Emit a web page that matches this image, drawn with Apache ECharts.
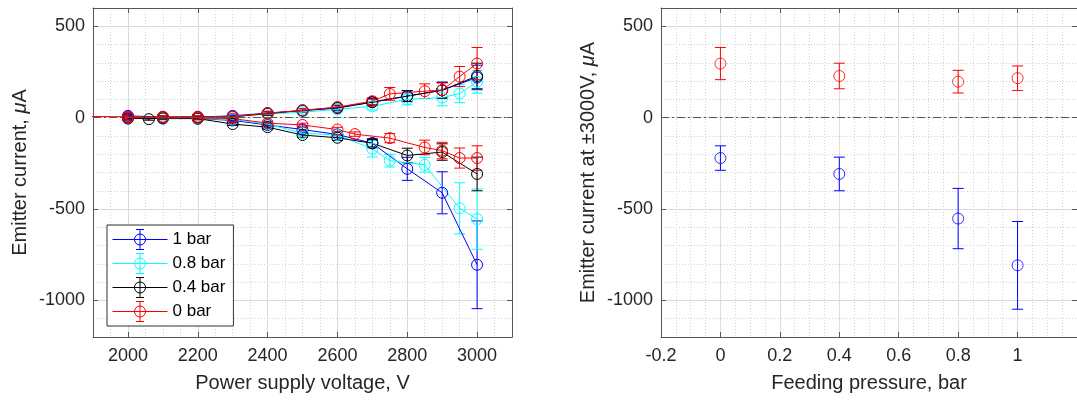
<!DOCTYPE html>
<html><head><meta charset="utf-8">
<script src="https://cdn.jsdelivr.net/npm/echarts@6.0.0/dist/echarts.min.js"></script>
<style>html,body{margin:0;padding:0;background:#fff}#c{width:1077px;height:402px}</style>
</head><body><div id="c"></div>
<script>
// ---------- data (left panel) ----------
const VOLTAGES = [1800, 2000, 2060, 2100, 2200, 2300, 2400, 2500, 2600, 2650, 2700, 2750, 2800, 2850, 2900, 2950, 3000];
const PRESSURE_NAMES = ['1 bar', '0.8 bar', '0.4 bar', '0 bar'];

const BAR1_POS     = [null, 10, null, 3, 3, 10, 25, 38, 52, null, 85, null, 118, null, 150, null, 220];
const BAR1_POS_ERR = [null, 8, null, 6, 6, 8, 10, 10, 12, null, 18, null, 30, null, 45, null, 67];
const BAR1_NEG     = [null, 5, null, -5, -5, -15, -40, -65, -92, null, -140, null, -280, null, -411, null, -805];
const BAR1_NEG_ERR = [null, 8, null, 6, 6, 8, 10, 12, 15, null, 25, null, 63, null, 115, null, 240];

const BAR08_POS     = [null, 0, null, 0, 0, 5, 20, 30, 45, null, 62, null, 100, null, 110, 132, 196];
const BAR08_POS_ERR = [null, 8, null, 6, 6, 8, 10, 10, 12, null, 20, null, 30, null, 45, 50, 62];
const BAR08_NEG     = [null, 0, null, -5, -5, -10, -35, -85, -95, null, -170, -235, null, -258, null, -496, -555];
const BAR08_NEG_ERR = [null, 8, null, 6, 6, 8, 10, 12, 15, null, 45, 35, null, 40, null, 140, 165];

const BAR04_POS     = [null, 0, -8, 3, 3, 5, 22, 40, 55, null, 85, null, 118, null, 150, null, 228];
const BAR04_POS_ERR = [null, 8, 6, 6, 6, 8, 10, 10, 12, null, 18, null, 30, null, 42, null, 70];
const BAR04_NEG     = [null, -5, null, -3, -5, -35, -52, -95, -110, null, -140, null, -207, null, -188, null, -308];
const BAR04_NEG_ERR = [null, 8, null, 6, 6, 8, 10, 12, 15, null, 20, null, 40, null, 45, null, 92];

const BAR0_POS     = [8, 5, null, 5, 5, 5, 25, 40, 58, null, 90, 130, null, 145, 150, 225, 296];
const BAR0_POS_ERR = [null, 8, null, 6, 6, 8, 10, 10, 12, null, 18, 35, null, 40, 40, 55, 88];
const BAR0_NEG     = [null, 0, null, 0, -2, -5, -30, -40, -65, -90, null, -112, null, -163, -180, -221, -221];
const BAR0_NEG_ERR = [null, 8, null, 6, 6, 8, 10, 10, 12, 12, null, 25, null, 40, 45, 55, 67];

// ---------- data (right panel) ----------
const FEED_PRESSURE = [0, 0.4, 0.8, 1];
const AT3000_POS     = [296, 228, 197, 216];
const AT3000_POS_ERR = [88, 70, 62, 67];
const AT3000_NEG     = [-221, -308, -552, -808];
const AT3000_NEG_ERR = [67, 92, 165, 240];

// ---------- styling ----------
const FONT = '"Liberation Sans", Arial, Helvetica, sans-serif';
const TXT = '#262626';
const COLORS = ['#0000ff', '#00ffff', '#000000', '#ff0000'];
const GROUPS = [
  [BAR1_POS, BAR1_POS_ERR, BAR1_NEG, BAR1_NEG_ERR],
  [BAR08_POS, BAR08_POS_ERR, BAR08_NEG, BAR08_NEG_ERR],
  [BAR04_POS, BAR04_POS_ERR, BAR04_NEG, BAR04_NEG_ERR],
  [BAR0_POS, BAR0_POS_ERR, BAR0_NEG, BAR0_NEG_ERR]
];
const BOX = '#555';
const MAJOR = '#dedede';
const MINOR = '#d2d2d2';

function pairs(xs, ys) {
  const out = [];
  xs.forEach((x, i) => { if (ys[i] != null) out.push([x, ys[i]]); });
  return out;
}
function errs(xs, ys, es) {
  const out = [];
  xs.forEach((x, i) => { if (ys[i] != null && es[i] != null) out.push([x, ys[i] - es[i], ys[i] + es[i]]); });
  return out;
}
function errRender(params, api) {
  const x = api.value(0), lo = api.value(1), hi = api.value(2);
  const p1 = api.coord([x, hi]), p2 = api.coord([x, lo]);
  const w = 5.5;
  const style = { stroke: api.visual('color'), lineWidth: 1, fill: null };
  return { type: 'group', children: [
    { type: 'line', shape: { x1: p1[0], y1: p1[1], x2: p2[0], y2: p2[1] }, style },
    { type: 'line', shape: { x1: p1[0] - w, y1: p1[1], x2: p1[0] + w, y2: p1[1] }, style },
    { type: 'line', shape: { x1: p2[0] - w, y1: p2[1], x2: p2[0] + w, y2: p2[1] }, style }
  ]};
}

const intFmt = v => String(Math.round(v));
const decFmt = v => String(+Number(v).toFixed(2));

function dataAxisX(grid, min, max, extra) {
  return Object.assign({
    type: 'value', gridIndex: grid, position: 'bottom', min, max,
    axisLine: { show: true, onZero: false, lineStyle: { color: BOX, width: 1 } },
    axisTick: { show: true, inside: true, length: 5, lineStyle: { color: BOX } },
    axisLabel: { show: true, color: TXT, fontSize: 18, fontFamily: FONT, margin: 10, showMinLabel: false, showMaxLabel: false },
    splitLine: { show: true, lineStyle: { color: MAJOR, width: 1, type: 'solid' } },
    nameLocation: 'middle', nameGap: 36,
    nameTextStyle: { color: TXT, fontSize: 20, fontFamily: FONT }
  }, extra);
}
function minorAxis(kind, grid, min, max, interval) {
  return {
    type: 'value', gridIndex: grid, position: kind === 'x' ? 'bottom' : 'left', min, max, interval,
    axisLine: { show: false, onZero: false }, axisTick: { show: false }, axisLabel: { show: false },
    splitLine: { show: true, lineStyle: { color: MINOR, width: 1, type: [1, 2] } }
  };
}
function boxAxis(kind, grid, min, max, extra) {
  return Object.assign({
    type: 'value', gridIndex: grid, position: kind === 'x' ? 'top' : 'right', min, max,
    axisLine: { show: true, onZero: false, lineStyle: { color: BOX, width: 1 } },
    axisTick: { show: true, inside: true, length: 5, lineStyle: { color: BOX } },
    axisLabel: { show: false }, splitLine: { show: false }
  }, extra);
}
function dataAxisY(grid, name) {
  return {
    type: 'value', gridIndex: grid, position: 'left', min: -1200, max: 600, splitNumber: 4,
    axisLine: { show: true, onZero: false, lineStyle: { color: BOX, width: 1 } },
    axisTick: { show: true, inside: true, length: 5, lineStyle: { color: BOX } },
    axisLabel: { show: true, color: TXT, fontSize: 18, fontFamily: FONT, margin: 8, formatter: intFmt, showMinLabel: false, showMaxLabel: false },
    splitLine: { show: true, lineStyle: { color: MAJOR, width: 1 } },
    name, nameLocation: 'middle', nameGap: 63,
    nameTextStyle: { color: TXT, fontSize: 20, fontFamily: FONT, rich: { i: { fontStyle: 'italic', fontSize: 20, color: TXT, fontFamily: FONT } } }
  };
}

const xAxis = [
  dataAxisX(0, 1900, 3100, { splitNumber: 6, name: 'Power supply voltage, V', axisLabel: { show: true, color: TXT, fontSize: 18, fontFamily: FONT, margin: 10, formatter: intFmt, showMinLabel: false, showMaxLabel: false } }),
  minorAxis('x', 0, 1900, 3100, 50),
  boxAxis('x', 0, 1900, 3100, { splitNumber: 6 }),
  dataAxisX(1, -0.2, 1.2, { interval: 0.2, name: 'Feeding pressure, bar',
    axisLabel: { show: true, color: TXT, fontSize: 18, fontFamily: FONT, margin: 10, formatter: decFmt, showMinLabel: true, showMaxLabel: false },
    minorSplitLine: { show: true, lineStyle: { color: MINOR, width: 1, type: [1, 2] } },
    minorTick: { show: false, splitNumber: 4 } }),
  boxAxis('x', 1, -0.2, 1.2, { interval: 0.2 })
];
const yAxis = [
  dataAxisY(0, 'Emitter current, {i|μ}A'),
  minorAxis('y', 0, -1200, 600, 100),
  boxAxis('y', 0, -1200, 600, { splitNumber: 4 }),
  dataAxisY(1, 'Emitter current at ±3000V, {i|μ}A'),
  minorAxis('y', 1, -1200, 600, 100),
  boxAxis('y', 1, -1200, 600, { splitNumber: 4 })
];

const zeroLine = {
  silent: true, symbol: ['none', 'none'], label: { show: false },
  lineStyle: { type: [8, 3, 2, 3], color: '#555', width: 1 },
  emphasis: { disabled: true },
  data: [{ yAxis: 0 }]
};

const series = [];
GROUPS.forEach((g, k) => {
  const c = COLORS[k], name = PRESSURE_NAMES[k];
  const common = {
    type: 'line', name, xAxisIndex: 0, yAxisIndex: 0, symbol: 'circle', symbolSize: 11,
    itemStyle: { color: 'rgba(0,0,0,0)', borderColor: c, borderWidth: 1 },
    lineStyle: { color: c, width: 1 }, emphasis: { disabled: true }, clip: true, z: 3
  };
  series.push(Object.assign({}, common, { data: pairs(VOLTAGES, g[0]) }, k === 0 ? { markLine: zeroLine } : {}));
  series.push(Object.assign({}, common, { data: pairs(VOLTAGES, g[2]) }));
  series.push({
    type: 'custom', name, xAxisIndex: 0, yAxisIndex: 0, renderItem: errRender, clip: true, z: 3,
    itemStyle: { color: c }, encode: { x: 0, y: [1, 2] },
    data: errs(VOLTAGES, g[0], g[1]).concat(errs(VOLTAGES, g[2], g[3]))
  });
});
// right panel
[[AT3000_POS, AT3000_POS_ERR, '#ff0000', 'pos'], [AT3000_NEG, AT3000_NEG_ERR, '#0000ff', 'neg']].forEach((s, k) => {
  series.push({
    type: 'scatter', name: s[3], xAxisIndex: 3, yAxisIndex: 3, symbol: 'circle', symbolSize: 11,
    itemStyle: { color: 'rgba(0,0,0,0)', borderColor: s[2], borderWidth: 1 },
    emphasis: { disabled: true }, z: 3,
    data: pairs(FEED_PRESSURE, s[0]),
    markLine: k === 0 ? zeroLine : undefined
  });
  series.push({
    type: 'custom', name: s[3] + 'err', xAxisIndex: 3, yAxisIndex: 3, renderItem: errRender, clip: true, z: 3,
    itemStyle: { color: s[2] }, encode: { x: 0, y: [1, 2] },
    data: errs(FEED_PRESSURE, s[0], s[1])
  });
});

const ICON = 'path://M0 10 L55 10 M22 10 A5.5 5.5 0 1 1 33 10 A5.5 5.5 0 1 1 22 10 M27.5 0 L27.5 20 M23.5 0 L31.5 0 M23.5 20 L31.5 20';

const option = {
  animation: false,
  backgroundColor: '#fff',
  textStyle: { fontFamily: FONT },
  grid: [
    { left: 93, top: 8, width: 419, height: 329, containLabel: false },
    { left: 661, top: 8, width: 420, height: 329, containLabel: false }
  ],
  xAxis, yAxis, series,
  legend: {
    orient: 'vertical', left: 107, top: 225, itemWidth: 55, itemHeight: 20, itemGap: 3,
    padding: [4, 8, 4, 5], backgroundColor: '#fff', borderColor: '#333', borderWidth: 1, borderRadius: 0,
    textStyle: { fontSize: 17, color: '#000', fontFamily: FONT },
    selectedMode: false,
    data: PRESSURE_NAMES.map((n, i) => ({ name: n, icon: ICON, itemStyle: { color: 'rgba(0,0,0,0)', borderColor: COLORS[i], borderWidth: 1 } }))
  }
};
const chart = echarts.init(document.getElementById('c'), null, { renderer: 'canvas' });
chart.setOption(option);
</script></body></html>
